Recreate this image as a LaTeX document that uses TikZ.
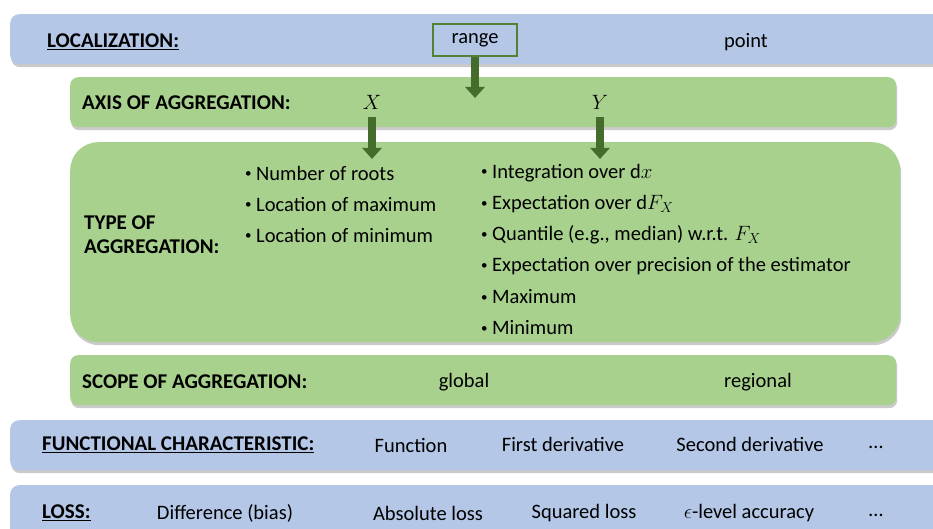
\documentclass[tikz,border=0pt]{standalone}
\usepackage{fontspec}
\setmainfont{Carlito}
\usetikzlibrary{arrows.meta,shadows}
\definecolor{barblue}{HTML}{B4C7E7}
\definecolor{bargreen}{HTML}{A9D18E}
\definecolor{darkgreen}{HTML}{446C2B}
\definecolor{boxgreen}{HTML}{548235}
\newcommand{\bulmark}{\makebox[11pt][l]{\raisebox{0.12em}{\fontsize{13}{13}\selectfont\textbullet}}}
\tikzset{
  shad/.style={drop shadow={opacity=0.35,shadow xshift=1pt,shadow yshift=-3pt,fill=black!60}},
  bluebar/.style={fill=barblue,rounded corners=9pt,anchor=north west,inner sep=0,shad},
  greenbar/.style={fill=bargreen,rounded corners=8pt,anchor=north west,inner sep=0,shad},
  bigbar/.style={fill=bargreen,rounded corners=28pt,anchor=north west,inner sep=0,shad},
  txt/.style={font=\fontsize{20.5}{24}\selectfont,inner sep=0},
  head/.style={txt,font=\fontsize{21}{24}\selectfont\bfseries,anchor=west,align=left},
  blockarrow/.style={draw=darkgreen,line width=8.5pt,-{Triangle[width=19pt,length=11pt]}},
  bul/.style={txt,anchor=west},
}
\begin{document}
\begin{tikzpicture}[x=1pt,y=-1pt]
\useasboundingbox (0,0) rectangle (933,529);
\clip (0,0) rectangle (933,529);
% bars
\node (locbar) [bluebar,minimum width=960pt,minimum height=50pt] at (10,14) {};
\node (axisbar) [greenbar,minimum width=826pt,minimum height=50pt] at (70,77) {};
\node (typebar) [bigbar,minimum width=830pt,minimum height=200pt] at (70,142) {};
\node (scopebar) [greenbar,minimum width=826pt,minimum height=50pt] at (70,355) {};
\node (funcbar) [bluebar,minimum width=960pt,minimum height=50pt] at (10,420) {};
\node (lossbar) [bluebar,minimum width=960pt,minimum height=60pt] at (10,485) {};
% localization
\node (loc) [head] at (47,42) {\underline{LOCALIZATION:}};
\node (range) [txt,draw=boxgreen,line width=2.5pt,minimum width=84pt,minimum height=32pt] at (475,40) {range};
\node (point) [txt] at (746,42) {point};
% axis
\node (axis) [head] at (82,103) {AXIS OF AGGREGATION:};
\node (X) [txt] at (372,102) {$X$};
\node (Y) [txt] at (600,102) {$Y$};
\coordinate (rangetip) at (475,98);
\draw[blockarrow] (range.south) -- (rangetip);
\coordinate (Xs) at (372,117);
\coordinate (Xt) at (372,159);
\coordinate (Ys) at (600,117);
\coordinate (Yt) at (600,159);
\draw[blockarrow] (Xs) -- (Xt);
\draw[blockarrow] (Ys) -- (Yt);
% type
\node (type) [head] at (84,235) {TYPE OF\\AGGREGATION:};
\node (l1) [bul] at (245,173) {\bulmark Number of roots};
\node (l2) [bul] at (245,204) {\bulmark Location of maximum};
\node (l3) [bul] at (245,235) {\bulmark Location of minimum};
\node (r1) [bul] at (481,173) {\bulmark Integration over $\mathrm{d}x$};
\node (r2) [bul] at (481,204) {\bulmark Expectation over $\mathrm{d}F_X$};
\node (r3) [bul] at (481,235) {\bulmark Quantile (e.g., median) w.r.t. $F_X$};
\node (r4) [bul] at (481,266) {\bulmark Expectation over precision of the estimator};
\node (r5) [bul] at (481,297) {\bulmark Maximum};
\node (r6) [bul] at (481,328) {\bulmark Minimum};
% scope
\node (scope) [head] at (82,382) {SCOPE OF AGGREGATION:};
\node (global) [txt] at (464,382) {global};
\node (regional) [txt] at (758,382) {regional};
% functional
\node (func) [head] at (42,445) {\underline{FUNCTIONAL CHARACTERISTIC:}};
\node (f1) [txt] at (411,445) {Function};
\node (f2) [txt] at (563,444) {First derivative};
\node (f3) [txt] at (750,444) {Second derivative};
\node (f4) [txt] at (876,447) {\dots};
% loss
\node (loss) [head] at (42,513) {\underline{LOSS:}};
\node (d1) [txt] at (225,513) {Difference (bias)};
\node (d2) [txt] at (428,513) {Absolute loss};
\node (d3) [txt] at (584,513) {Squared loss};
\node (d4) [txt] at (749,513) {$\epsilon$-level accuracy};
\node (d5) [txt] at (876,515) {\dots};
\end{tikzpicture}
\end{document}
